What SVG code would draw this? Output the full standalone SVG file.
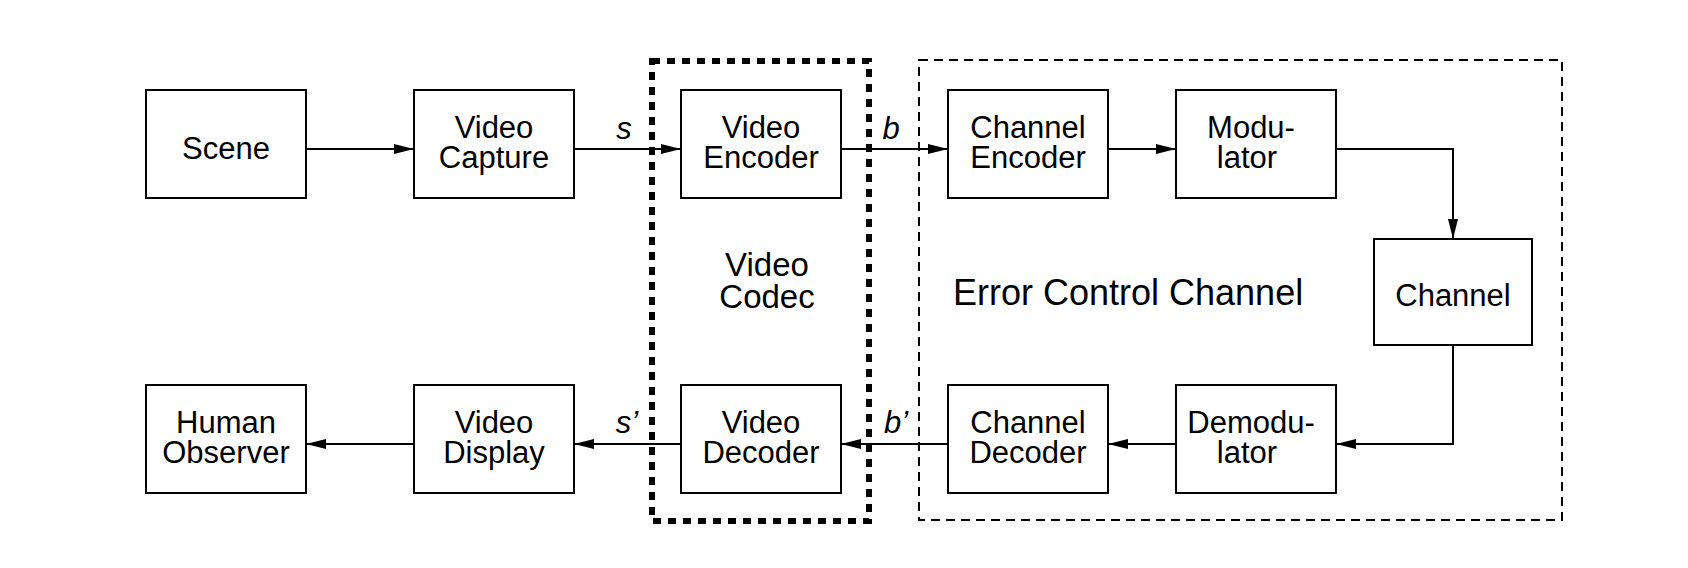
<svg xmlns="http://www.w3.org/2000/svg" width="1688" height="568" viewBox="0 0 1688 568">
<style>
.box{fill:#fff;stroke:#000;stroke-width:2}
.t{font-family:"Liberation Sans",Arial,sans-serif;font-size:31px;fill:#000;text-anchor:middle}
.big{font-size:33px}
.ecc{font-family:"Liberation Sans",Arial,sans-serif;font-size:36px;fill:#000}
.lab{font-family:"Liberation Sans",Arial,sans-serif;font-size:31px;font-style:italic;fill:#000;text-anchor:middle}
.c{fill:none;stroke:#000;stroke-width:2;marker-end:url(#ah)}
</style>
<defs>
<marker id="ah" markerUnits="userSpaceOnUse" markerWidth="20" markerHeight="10" refX="20" refY="5" orient="auto">
<path d="M0,0 L20,5 L0,10 z" fill="#000"/>
</marker>
</defs>
<rect width="1688" height="568" fill="#fff"/>
<g id="groups">
<rect id="codec-frame" x="652" y="61" width="217" height="460" fill="none" stroke="#000" stroke-width="6" stroke-dasharray="8 7"/>
<rect id="ecc-frame" x="919" y="60" width="643" height="460" fill="none" stroke="#000" stroke-width="2" stroke-dasharray="9 6"/>
<text class="t big" x="767" y="276">Video</text>
<text class="t big" x="767" y="308">Codec</text>
<text class="ecc" x="953" y="305">Error Control Channel</text>
</g>
<g id="connectors">
<path class="c" d="M306,149 H414"/>
<path class="c" d="M574,149 H681"/>
<path class="c" d="M841,149 H948"/>
<path class="c" d="M1108,149 H1176"/>
<path class="c" d="M1336,149 H1453 V239"/>
<path class="c" d="M1453,345 V444 H1336"/>
<path class="c" d="M1176,444 H1108"/>
<path class="c" d="M948,444 H841"/>
<path class="c" d="M681,444 H574"/>
<path class="c" d="M414,444 H306"/>
<text class="lab" x="624" y="139">s</text>
<text class="lab" x="891" y="139">b</text>
<text class="lab" x="627" y="433">s’</text>
<text class="lab" x="896" y="433">b’</text>
</g>
<g id="scene"><rect class="box" x="146" y="90" width="160" height="108"/><text class="t" x="226" y="159">Scene</text></g>
<g id="video-capture"><rect class="box" x="414" y="90" width="160" height="108"/><text class="t" x="494" y="138">Video</text><text class="t" x="494" y="168">Capture</text></g>
<g id="video-encoder"><rect class="box" x="681" y="90" width="160" height="108"/><text class="t" x="761" y="138">Video</text><text class="t" x="761" y="168">Encoder</text></g>
<g id="channel-encoder"><rect class="box" x="948" y="90" width="160" height="108"/><text class="t" x="1028" y="138">Channel</text><text class="t" x="1028" y="168">Encoder</text></g>
<g id="modulator"><rect class="box" x="1176" y="90" width="160" height="108"/><text class="t" x="1251" y="138">Modu-</text><text class="t" x="1247" y="168">lator</text></g>
<g id="channel"><rect class="box" x="1374" y="239" width="158" height="106"/><text class="t" x="1453" y="306">Channel</text></g>
<g id="demodulator"><rect class="box" x="1176" y="385" width="160" height="108"/><text class="t" x="1251" y="433">Demodu-</text><text class="t" x="1247" y="463">lator</text></g>
<g id="channel-decoder"><rect class="box" x="948" y="385" width="160" height="108"/><text class="t" x="1028" y="433">Channel</text><text class="t" x="1028" y="463">Decoder</text></g>
<g id="video-decoder"><rect class="box" x="681" y="385" width="160" height="108"/><text class="t" x="761" y="433">Video</text><text class="t" x="761" y="463">Decoder</text></g>
<g id="video-display"><rect class="box" x="414" y="385" width="160" height="108"/><text class="t" x="494" y="433">Video</text><text class="t" x="494" y="463">Display</text></g>
<g id="human-observer"><rect class="box" x="146" y="385" width="160" height="108"/><text class="t" x="226" y="433">Human</text><text class="t" x="226" y="463">Observer</text></g>
</svg>
